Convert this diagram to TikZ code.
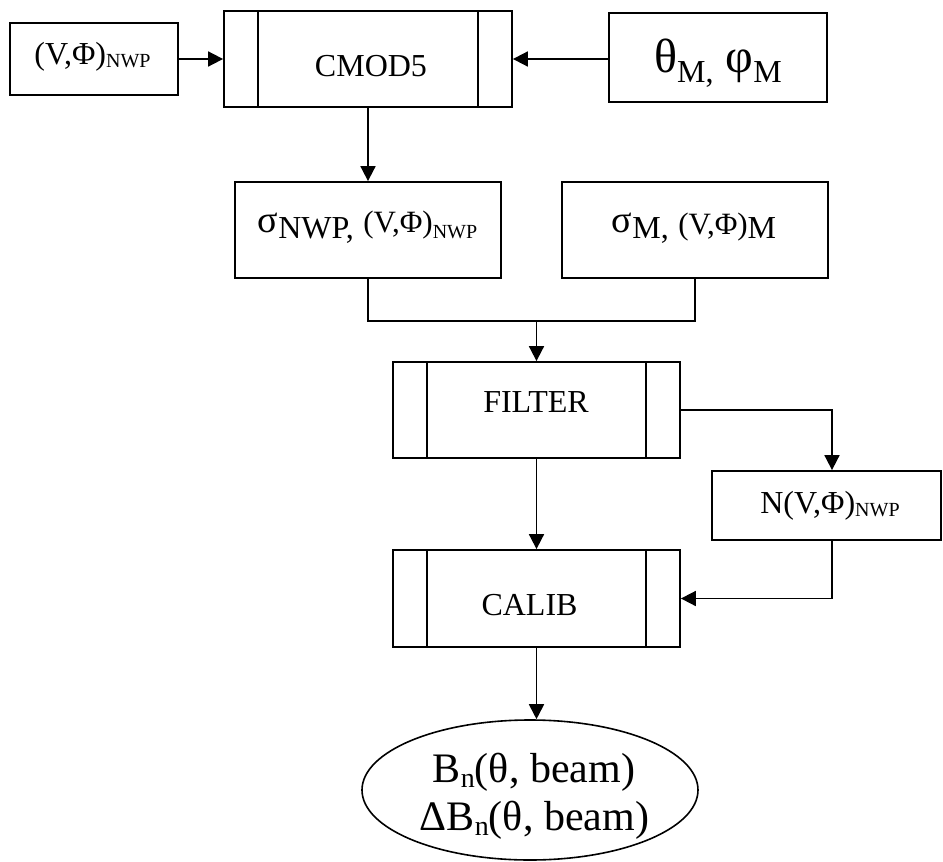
\documentclass[tikz,border=0pt]{standalone}
\usepackage{fontspec}
\setmainfont{Liberation Serif}
\usetikzlibrary{arrows.meta,shapes.geometric}
\newcommand{\mysub}[3]{\raisebox{-#2pt}{\fontsize{#1}{#1}\selectfont #3}}
\begin{document}
\begin{tikzpicture}[x=1pt,y=-1pt,
  box/.style={draw, line width=1.8pt, inner sep=0pt},
  procbox/.style={box, minimum width=287pt, minimum height=96pt},
  bar/.style={line width=1.6pt},
  conn/.style={line width=1.8pt},
  arr/.style={conn, -{Triangle[length=15pt,width=15pt]}},
  lbl/.style={anchor=base, inner sep=0pt, font=\fontsize{32}{38}\selectfont},
]
\useasboundingbox (0,0) rectangle (943,862);

% boxes
\node[box, minimum width=168pt, minimum height=72pt] (v1) at (94,59) {};
\node[procbox, minimum width=288pt] (cmod) at (368,59) {};
\node[box, minimum width=218pt, minimum height=89pt] (th) at (718,57.5) {};
\node[box, minimum width=266pt, minimum height=96pt] (snwp) at (368,230) {};
\node[box, minimum width=266pt, minimum height=96pt] (sm) at (695,230) {};
\node[procbox] (filter) at (536.5,410) {};
\node[box, minimum width=229pt, minimum height=69pt] (nbox) at (826.5,505.5) {};
\node[procbox, minimum height=97pt] (calib) at (536.5,598.5) {};
\node[box, ellipse, line width=1.6pt, minimum width=336pt, minimum height=140pt] (ell) at (530,790) {};

% inner bars of process boxes
\foreach \n in {cmod,filter,calib}{
  \draw[bar] ([xshift=35pt]\n.north west) -- ([xshift=35pt]\n.south west);
  \draw[bar] ([xshift=-35pt]\n.north east) -- ([xshift=-35pt]\n.south east);
}

% texts
\node[lbl] (v1t) at (92.5,64) {(V,Φ)\mysub{20}{3}{NWP}};
\node[lbl] (cmodt) at (371,76) {CMOD5};
\node[lbl] (tht) at (718,72) {\fontsize{48}{50}\selectfont θ\mysub{32}{10}{M,} φ\mysub{32}{10}{M}};
\node[lbl] (snwpt) at (367.5,232) {\fontsize{38}{40}\selectfont σ\mysub{32}{6}{NWP,} \fontsize{31}{32}\selectfont(V,Φ)\mysub{20}{6}{NWP}};
\node[lbl] (smt) at (694,232) {\fontsize{38}{40}\selectfont σ\mysub{32}{6}{M,} \fontsize{31}{32}\selectfont\raisebox{-2pt}{(V,Φ)}\mysub{32}{6}{M}};
\node[lbl] (filtert) at (536,412) {FILTER};
\node[lbl] (nt) at (830,513) {N(V,Φ)\mysub{20}{3}{NWP}};
\node[lbl] (calibt) at (529.5,615) {CALIB};
\node[lbl] (el1) at (534,782) {\fontsize{42}{44}\selectfont B\mysub{28}{5}{n}(θ, beam)};
\node[lbl] (el2) at (534.5,830) {\fontsize{42}{44}\selectfont ΔB\mysub{28}{5}{n}(θ, beam)};

% connectors
\draw[arr] (v1.east) -- (v1.east -| cmod.west);
\draw[arr] (cmod.east -| th.west) -- (cmod.east);
\draw[arr] (cmod.south) -- (snwp.north);
\draw[conn] (snwp.south) -- ++(0,42) coordinate (j1) -| (sm.south);
\draw[arr] (filter.north |- j1) -- (filter.north);
\draw[arr] (filter.south) -- (calib.north);
\draw[arr] (filter.east) -| ([xshift=5.5pt]nbox.north);
\draw[arr] ([xshift=5.5pt]nbox.south) |- (calib.east);
\draw[arr] (calib.south) -- (calib.south |- ell.north);
\end{tikzpicture}
\end{document}
